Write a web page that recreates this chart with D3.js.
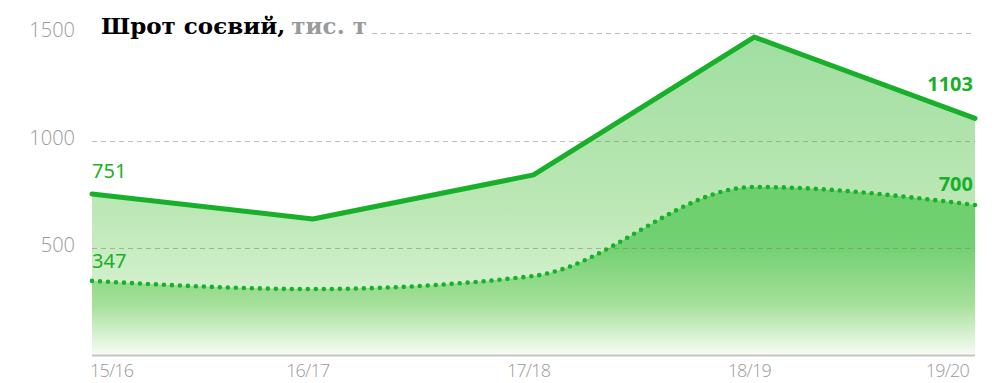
<!DOCTYPE html>
<html>
<head>
<meta charset="utf-8">
<script src="https://cdn.jsdelivr.net/npm/d3@7"></script>
<style>
  html, body { margin: 0; padding: 0; background: #fff; }
  svg { display: block; }
</style>
</head>
<body>
<svg id="chart" width="1006" height="383"></svg>
<script>
// Marketing years and soybean meal volumes, thousand tonnes
const seasons = ["15/16", "16/17", "17/18", "18/19", "19/20"];
const totalValues = [751, 635, 840, 1481, 1103];   // upper solid line
const exportValues = [347, 309, 370, 784, 700];    // lower dotted line
const yTicks = [500, 1000, 1500];

const titleMain = "Шрот соєвий,";
const titleUnit = "тис. т";

const svg = d3.select("#chart");
const x0 = 92, x1 = 975;
const yBase = 355.5, yTop = 33;

const x = d3.scalePoint().domain(seasons).range([x0, x1]);
const y = d3.scaleLinear().domain([0, 1500]).range([yBase, yTop]);

const green = "#18b02a";
const labelFont = "'Open Sans', 'Noto Sans', sans-serif";

// gradients
const defs = svg.append("defs");
const gTop = defs.append("linearGradient").attr("id", "gTop")
  .attr("x1", 0).attr("y1", 0).attr("x2", 0).attr("y2", 1);
gTop.append("stop").attr("offset", 0).attr("stop-color", "#a0dea0");
gTop.append("stop").attr("offset", 0.55).attr("stop-color", "#bde8b6");
gTop.append("stop").attr("offset", 1).attr("stop-color", "#e6f7e0");

const gLow = defs.append("linearGradient").attr("id", "gLow")
  .attr("x1", 0).attr("y1", 0).attr("x2", 0).attr("y2", 1);
gLow.append("stop").attr("offset", 0).attr("stop-color", "#6ccf6c");
gLow.append("stop").attr("offset", 0.35).attr("stop-color", "#72d172");
gLow.append("stop").attr("offset", 0.7).attr("stop-color", "#a6e09a");
gLow.append("stop").attr("offset", 1).attr("stop-color", "#f8fdf6");

const rowsTotal = seasons.map((s, i) => ({ s, v: totalValues[i] }));
const rowsExport = seasons.map((s, i) => ({ s, v: exportValues[i] }));

// filled areas
svg.append("path")
  .datum(rowsTotal)
  .attr("fill", "url(#gTop)")
  .attr("d", d3.area().x(d => x(d.s)).y0(yBase).y1(d => y(d.v)).curve(d3.curveLinear));

svg.append("path")
  .datum(rowsExport)
  .attr("fill", "url(#gLow)")
  .attr("d", d3.area().x(d => x(d.s)).y0(yBase).y1(d => y(d.v)).curve(d3.curveMonotoneX));

// horizontal grid
svg.append("g").selectAll("line")
  .data(yTicks)
  .join("line")
  .attr("x1", d => d === 1500 ? 372 : x0)
  .attr("x2", x1)
  .attr("y1", d => Math.round(y(d)) + 0.5)
  .attr("y2", d => Math.round(y(d)) + 0.5)
  .attr("stroke", "#7a7a7a")
  .attr("stroke-opacity", 0.5)
  .attr("stroke-width", 1)
  .attr("stroke-dasharray", "5,4");

// baseline
svg.append("line")
  .attr("x1", x0).attr("x2", x1)
  .attr("y1", yBase).attr("y2", yBase)
  .attr("stroke", "#c4c4c4").attr("stroke-width", 2);

// y tick labels
svg.append("g").selectAll("text")
  .data(yTicks)
  .join("text")
  .attr("x", 75)
  .attr("y", d => y(d) + 4)
  .attr("text-anchor", "end")
  .attr("font-family", labelFont)
  .attr("font-weight", 300)
  .attr("font-size", 20)
  .attr("fill", "#9a9a9a")
  .text(d => d);

// x labels
svg.append("g").selectAll("text")
  .data(seasons)
  .join("text")
  .attr("x", (d, i) => i === 0 ? x0 - 2 : i === seasons.length - 1 ? x1 - 6 : x(d) - 5)
  .attr("y", 377)
  .attr("text-anchor", (d, i) => i === 0 ? "start" : i === seasons.length - 1 ? "end" : "middle")
  .attr("font-family", labelFont)
  .attr("font-weight", 300)
  .attr("font-size", 18)
  .attr("letter-spacing", -0.8)
  .attr("fill", "#9a9a9a")
  .text(d => d);

// lines
svg.append("path")
  .datum(rowsTotal)
  .attr("fill", "none")
  .attr("stroke", green)
  .attr("stroke-width", 5)
  .attr("stroke-linecap", "round")
  .attr("stroke-linejoin", "round")
  .attr("d", d3.line().x(d => x(d.s)).y(d => y(d.v)));

svg.append("path")
  .datum(rowsExport)
  .attr("fill", "none")
  .attr("stroke", green)
  .attr("stroke-width", 4.6)
  .attr("stroke-linecap", "round")
  .attr("stroke-dasharray", "0,8")
  .attr("d", d3.line().x(d => x(d.s)).y(d => y(d.v)).curve(d3.curveMonotoneX));

// value labels at the ends
const vFont = "'Noto Sans', 'DejaVu Sans', sans-serif";
const first = seasons[0], last = seasons[seasons.length - 1];
svg.append("text").attr("x", x(first)).attr("y", 178)
  .attr("font-family", vFont).attr("font-size", 20).attr("fill", green)
  .text(totalValues[0]);
svg.append("text").attr("x", x(first)).attr("y", 268)
  .attr("font-family", vFont).attr("font-size", 20).attr("fill", green)
  .text(exportValues[0]);
svg.append("text").attr("x", x(last) - 2).attr("y", 91).attr("text-anchor", "end")
  .attr("font-family", vFont).attr("font-weight", 700).attr("font-size", 20).attr("fill", green)
  .text(totalValues[totalValues.length - 1]);
svg.append("text").attr("x", x(last) - 2).attr("y", 191).attr("text-anchor", "end")
  .attr("font-family", vFont).attr("font-weight", 700).attr("font-size", 20).attr("fill", green)
  .text(exportValues[exportValues.length - 1]);

// title
const title = svg.append("text")
  .attr("x", 101).attr("y", 34)
  .attr("font-family", "'DejaVu Serif', serif")
  .attr("font-weight", 700)
  .attr("font-size", 23);
title.append("tspan").attr("fill", "#000").text(titleMain);
title.append("tspan").attr("fill", "#9a9a9a").attr("dx", 6).text(titleUnit);
</script>
</body>
</html>
